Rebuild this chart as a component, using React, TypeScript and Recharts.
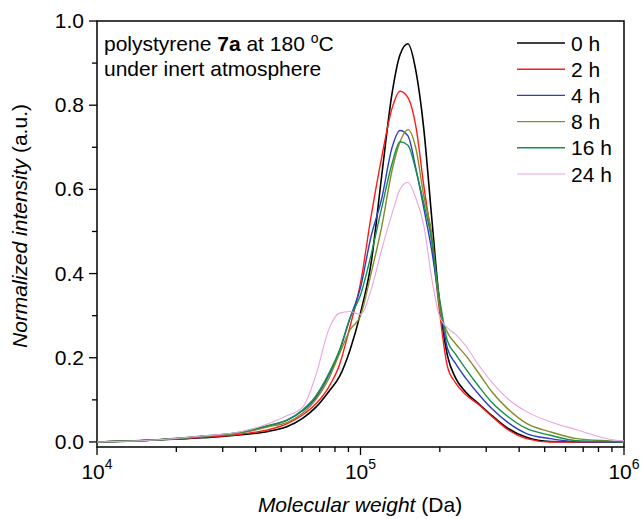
import { LineChart, Line, XAxis, YAxis, ReferenceArea, Customized } from 'recharts';

const FONT = '"Liberation Sans", Arial, sans-serif';

// molecular weight (Da) sampling points
const MW = [10000, 15850, 25120, 35480, 44670, 52480, 60260, 67610, 75860, 83180, 91200, 100000, 109650, 120230, 131830, 141250, 151360, 162180, 173780, 186210, 199530, 213800, 229090, 251190, 281840, 316230, 363080, 426580, 524810, 660690, 891250, 1000000];

const H0 = [0, 0.004, 0.010, 0.017, 0.025, 0.036, 0.056, 0.082, 0.120, 0.155, 0.218, 0.306, 0.424, 0.630, 0.829, 0.920, 0.946, 0.882, 0.745, 0.535, 0.330, 0.205, 0.153, 0.118, 0.090, 0.062, 0.032, 0.011, 0.001, 0, 0, 0];
const H2 = [0, 0.004, 0.011, 0.019, 0.029, 0.043, 0.064, 0.090, 0.131, 0.183, 0.274, 0.377, 0.535, 0.675, 0.793, 0.833, 0.818, 0.750, 0.610, 0.480, 0.310, 0.179, 0.141, 0.112, 0.088, 0.060, 0.029, 0.008, 0, 0, 0, 0];
const H4 = [0, 0.004, 0.013, 0.023, 0.038, 0.051, 0.074, 0.105, 0.159, 0.215, 0.294, 0.367, 0.488, 0.577, 0.700, 0.740, 0.727, 0.650, 0.556, 0.456, 0.330, 0.222, 0.187, 0.151, 0.112, 0.078, 0.046, 0.020, 0.008, 0.001, 0, 0];
const H8 = [0, 0.004, 0.013, 0.022, 0.036, 0.046, 0.068, 0.100, 0.151, 0.209, 0.266, 0.300, 0.400, 0.510, 0.646, 0.713, 0.742, 0.698, 0.585, 0.496, 0.321, 0.260, 0.234, 0.205, 0.162, 0.118, 0.078, 0.044, 0.024, 0.008, 0.002, 0];
const H16 = [0, 0.004, 0.014, 0.024, 0.039, 0.052, 0.076, 0.109, 0.163, 0.218, 0.294, 0.349, 0.444, 0.555, 0.662, 0.713, 0.705, 0.646, 0.567, 0.480, 0.341, 0.240, 0.209, 0.173, 0.131, 0.093, 0.060, 0.032, 0.016, 0.003, 0.001, 0];
const H24 = [0, 0.004, 0.014, 0.025, 0.043, 0.062, 0.082, 0.157, 0.268, 0.306, 0.310, 0.303, 0.361, 0.456, 0.543, 0.600, 0.617, 0.579, 0.515, 0.390, 0.298, 0.271, 0.256, 0.228, 0.181, 0.141, 0.102, 0.072, 0.048, 0.029, 0.006, 0.003];

const SERIES = [
  { key: 'h0', label: '0 h', color: '#000000', width: 1.6, values: H0 },
  { key: 'h2', label: '2 h', color: '#ff1a1a', width: 1.4, values: H2 },
  { key: 'h4', label: '4 h', color: '#2b3fc4', width: 1.4, values: H4 },
  { key: 'h8', label: '8 h', color: '#858a2a', width: 1.4, values: H8 },
  { key: 'h16', label: '16 h', color: '#13904a', width: 1.4, values: H16 },
  { key: 'h24', label: '24 h', color: '#e8a6df', width: 1.1, values: H24 },
];

const X_TICKS = [10000, 20000, 30000, 40000, 50000, 60000, 70000, 80000, 90000, 100000, 200000, 300000, 400000, 500000, 600000, 700000, 800000, 900000, 1000000];
const Y_TICKS = [0, 0.1, 0.2, 0.3, 0.4, 0.5, 0.6, 0.7, 0.8, 0.9, 1.0];

const data = MW.map((mw, i) => {
  const row: Record<string, number> = { mw };
  SERIES.forEach((s) => { row[s.key] = s.values[i]; });
  return row;
});

function XTick(props: any) {
  const { x, y, payload } = props;
  const lg = Math.log10(payload.value);
  const major = Math.abs(lg - Math.round(lg)) < 1e-6;
  return (
    <g>
      <line x1={x} y1={y} x2={x} y2={y + (major ? 8 : 5)} stroke="#000" strokeWidth={1.3} />
      {major && (
        <text x={x} y={y + 32} textAnchor="middle" fontSize={21} fontFamily={FONT} fill="#000">
          10<tspan dy={-10} fontSize={14}>{Math.round(lg)}</tspan>
        </text>
      )}
    </g>
  );
}

function YTick(props: any) {
  const { x, y, payload } = props;
  const major = Math.round(payload.value * 10) % 2 === 0;
  return (
    <g>
      <line x1={x - (major ? 8 : 5)} y1={y} x2={x} y2={y} stroke="#000" strokeWidth={1.3} />
      {major && (
        <text x={x - 13} y={y + 7} textAnchor="end" fontSize={21} fontFamily={FONT} fill="#000">
          {payload.value.toFixed(1)}
        </text>
      )}
    </g>
  );
}

function Annotations() {
  return (
    <g fontFamily={FONT} fill="#000">
      <text x={104} y={51} fontSize={21}>
        polystyrene <tspan fontWeight="bold">7a</tspan> at 180 <tspan dy={-8} fontSize={14}>o</tspan><tspan dy={8}>C</tspan>
      </text>
      <text x={104} y={76} fontSize={21}>under inert atmosphere</text>
      {SERIES.map((s, i) => {
        const y = 43 + i * 26.2;
        return (
          <g key={s.key}>
            <line x1={517} y1={y} x2={565} y2={y} stroke={s.color} strokeWidth={s.width} />
            <text x={571} y={y + 7.5} fontSize={21}>{s.label}</text>
          </g>
        );
      })}
      <text transform="translate(27,226) rotate(-90)" textAnchor="middle" fontSize={21}>
        <tspan fontStyle="italic">Normalized intensity</tspan> (a.u.)
      </text>
      <text x={360} y={512} textAnchor="middle" fontSize={21}>
        <tspan fontStyle="italic">Molecular weight</tspan> (Da)
      </text>
    </g>
  );
}

export default function App() {
  return (
    <div style={{ position: 'absolute', left: 0, top: 0, background: '#fff' }}>
      <LineChart width={641} height={519} data={data} margin={{ top: 21, right: 17, bottom: 0, left: 0 }}>
        <XAxis
          dataKey="mw"
          type="number"
          scale="log"
          domain={[10000, 1000000]}
          ticks={X_TICKS}
          interval={0}
          allowDataOverflow
          height={72}
          tickSize={0}
          tickMargin={0}
          tickLine={false}
          axisLine={false}
          tick={<XTick />}
        />
        <YAxis
          type="number"
          domain={[-0.012, 1]}
          ticks={Y_TICKS}
          interval={0}
          allowDataOverflow
          width={97}
          tickSize={0}
          tickMargin={0}
          tickLine={false}
          axisLine={false}
          tick={<YTick />}
        />
        {SERIES.map((s) => (
          <Line
            key={s.key}
            dataKey={s.key}
            type="monotone"
            stroke={s.color}
            strokeWidth={s.width}
            dot={false}
            activeDot={false}
            isAnimationActive={false}
          />
        ))}
        <ReferenceArea x1={10000} x2={1000000} y1={-0.012} y2={1} fill="none" stroke="#000" strokeWidth={1.5} ifOverflow="visible" />
        <Customized component={Annotations} />
      </LineChart>
    </div>
  );
}
